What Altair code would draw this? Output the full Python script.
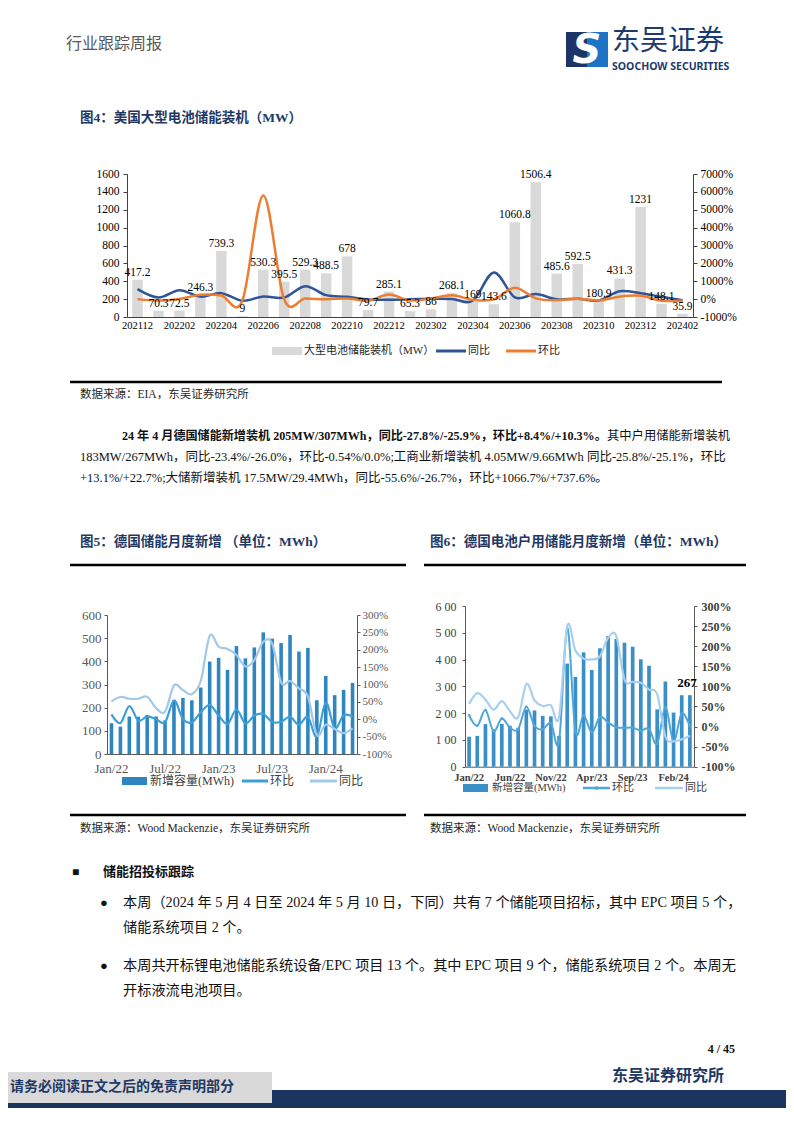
import altair as alt
import pandas as pd

W, H = 778, 1100
SERIF = "Liberation Serif, Noto Sans CJK SC, serif"
CJK = "Noto Sans CJK SC"

# ---------------- Figure 4 data ----------------
c1_months = ["202112", "202201", "202202", "202203", "202204", "202205", "202206",
             "202207", "202208", "202209", "202210", "202211", "202212", "202301",
             "202302", "202303", "202304", "202305", "202306", "202307", "202308",
             "202309", "202310", "202311", "202312", "202401", "202402"]
c1_mw = [417.2, 70.3, 72.5, 246.3, 739.3, 9, 530.3, 395.5, 529.3, 488.5, 678, 79.7,
         285.1, 65.3, 86, 268.1, 169, 143.6, 1060.8, 1506.4, 485.6, 592.5, 180.9,
         431.3, 1231, 148.1, 35.9]
c1_lbl = ["417.2", "70.3", "72.5", "246.3", "739.3", "9", "530.3", "395.5", "529.3",
          "488.5", "678", "79.7", "285.1", "65.3", "86", "268.1", "169", "143.6",
          "1060.8", "1506.4", "485.6", "592.5", "180.9", "431.3", "1231", "148.1", "35.9"]
c1_yoy = [558, 93, 502, 140, 335, -93, 149, 93, 726, 223, 130, -19, -32, -7, 19, 9,
          -77, 1496, 100, 281, -8, 21, -73, 441, 332, 127, -58]
c1_mom = [0, -83, 3, 240, 200, -99, 5792, -25, 34, -8, 39, -88, 258, -77, 32, 212,
          -37, -15, 639, 42, -68, 22, -69, 138, 185, -88, -76]
c1_ticks = c1_months[::2]

# ---------------- Figure 5 / 6 data ----------------
months = ["Jan/22", "Feb/22", "Mar/22", "Apr/22", "May/22", "Jun/22", "Jul/22",
          "Aug/22", "Sep/22", "Oct/22", "Nov/22", "Dec/22", "Jan/23", "Feb/23",
          "Mar/23", "Apr/23", "May/23", "Jun/23", "Jul/23", "Aug/23", "Sep/23",
          "Oct/23", "Nov/23", "Dec/23", "Jan/24", "Feb/24", "Mar/24", "Apr/24"]
c5_mwh = [133, 118, 162, 161, 168, 162, 145, 232, 242, 232, 287, 399, 415, 363,
          466, 413, 460, 525, 498, 479, 514, 442, 458, 232, 337, 254, 277, 307]
c5_mom = [14, -11, 38, -4, 8, 0, -9, 54, 1, -9, 20, 41, 11, -14, 28, -12, 11, 15,
          -8, -7, 7, -16, 7, -50, 48, -26, 11, 8]
c5_yoy = [51, 64, 59, 59, 65, 32, 22, 97, 84, 72, 110, 240, 209, 202, 185, 152, 170,
          223, 218, 106, 110, 89, 65, -45, -16, -28, -40, -26]
c5_ticks = ["Jan/22", "Jul/22", "Jan/23", "Jul/23", "Jan/24"]

c6_mwh = [112, 115, 159, 140, 160, 153, 145, 213, 210, 190, 188, 115, 385, 335,
          427, 361, 442, 488, 477, 463, 448, 401, 377, 214, 318, 202, 267, 267]
c6_mom = [28, 2, 41, -12, 20, -3, -7, 49, 2, -7, 9, -37, 244, -12, 28, -15, 24, 10,
          -2, -3, -3, -10, -6, -43, 48, -37, 33, 0]
c6_yoy = [56, 83, 67, 42, 63, 38, 23, 106, 65, 51, 53, 23, 250, 189, 169, 167, 175,
          221, 225, 117, 111, 109, 92, 80, -25, -37, -32, -23]
c6_ticks = ["Jan/22", "Jun/22", "Nov/22", "Apr/23", "Sep/23", "Feb/24"]
c6_last_label = "267"

df1 = pd.DataFrame({"m": c1_months, "v": c1_mw, "lbl": c1_lbl, "yoy": c1_yoy,
                    "mom": c1_mom, "i": list(range(len(c1_months)))})
df5 = pd.DataFrame({"m": months, "v": c5_mwh, "yoy": c5_yoy, "mom": c5_mom,
                    "i": list(range(len(months)))})
df6 = pd.DataFrame({"m": months, "v": c6_mwh, "yoy": c6_yoy, "mom": c6_mom,
                    "i": list(range(len(months)))})
df6_last = pd.DataFrame({"m": [months[-1]], "v": [c6_mwh[-1]], "lbl": [c6_last_label]})

DUMMY = pd.DataFrame({"k": [0]})


def text(x, y, s, size=12, bold=False, color="#111111", align="left", font=SERIF,
         baseline="middle", **kw):
    return alt.Chart(DUMMY).mark_text(
        text=s, fontSize=size, fontWeight="bold" if bold else "normal", color=color,
        align=align, baseline=baseline, font=font, **kw
    ).encode(x=alt.value(x), y=alt.value(y))


def rect(x, x2, y, y2, color):
    return alt.Chart(DUMMY).mark_rect(color=color).encode(
        x=alt.value(x), x2=alt.value(x2), y=alt.value(y), y2=alt.value(y2))


def hline(x, x2, y, color, width):
    return alt.Chart(DUMMY).mark_rule(color=color, strokeWidth=width).encode(
        x=alt.value(x), x2=alt.value(x2), y=alt.value(y))


def band(dom, r, pi, po):
    return alt.Scale(type="band", domain=dom, range=r, paddingInner=pi, paddingOuter=po)


def point(dom, r):
    return alt.Scale(type="point", domain=dom, range=r, padding=0.5)


def lin(dom, r):
    return alt.Scale(domain=dom, range=r, nice=False, zero=False)


layers = []

# ---------------- header ----------------
layers.append(text(58, 36, "行业跟踪周报", size=16, color="#595959"))
layers.append(rect(558, 600, 24, 59, "#1c3566"))
layers.append(rect(579, 600, 24, 59, "#1d73c4"))
layers.append(text(579, 43, "S", size=40, bold=True, color="#ffffff", align="center",
                   font="DejaVu Sans", fontStyle="italic"))
layers.append(text(604, 34, "东吴证券", size=28, color="#1d3b6f", font=CJK))
layers.append(text(604, 58.5, "SOOCHOW SECURITIES", size=10.5, bold=True,
                   color="#1d3b6f", font="Noto Sans"))

# ---------------- Figure 4 ----------------
layers.append(text(72, 110, "图4：美国大型电池储能装机（MW）", size=13.5, bold=True,
                   color="#1f3864"))

X1 = [119, 685]
Y1 = [309, 166]
base1 = alt.Chart(df1)
layers.append(base1.mark_bar(color="#d9d9d9").encode(
    x=alt.X("m:N", title=None, scale=band(c1_months, X1, 0.5, 0.25),
            axis=alt.Axis(orient="bottom", offset=309 - H, values=c1_ticks, labelAngle=0,
                          labelFont=SERIF, labelFontSize=10.5, labelColor="#000000",
                          domainColor="#404040", ticks=False, labelPadding=3,
                          labelOverlap=False, grid=False)),
    y=alt.Y("v:Q", title=None, scale=lin([0, 1600], Y1),
            axis=alt.Axis(orient="left", offset=-119, values=list(range(0, 1601, 200)),
                          format="d", labelFont=SERIF, labelFontSize=11.5,
                          labelColor="#000000", domainColor="#404040", tickColor="#404040",
                          tickSize=4, labelPadding=4, labelOverlap=False, grid=False)),
))
layers.append(base1.mark_line(color="#2f5597", strokeWidth=2.5, interpolate="cardinal",
                              tension=0).encode(
    x=alt.X("m:N", scale=point(c1_months, X1), axis=None),
    y=alt.Y("yoy:Q", title=None, scale=lin([-1000, 7000], Y1),
            axis=alt.Axis(orient="right", offset=685 - W,
                          values=list(range(-1000, 7001, 1000)),
                          labelExpr="datum.value + '%'", labelFont=SERIF,
                          labelFontSize=11.5, labelColor="#000000", domainColor="#404040",
                          tickColor="#404040", tickSize=4, labelPadding=3,
                          labelOverlap=False, grid=False)),
    order="i:Q",
))
layers.append(base1.mark_line(color="#ed7d31", strokeWidth=2.5, interpolate="cardinal",
                              tension=0).encode(
    x=alt.X("m:N", scale=point(c1_months, X1), axis=None),
    y=alt.Y("mom:Q", scale=lin([-1000, 7000], Y1), axis=None),
    order="i:Q",
))
layers.append(base1.mark_text(font=SERIF, fontSize=11.5, color="#000000",
                              baseline="bottom", dy=-2).encode(
    x=alt.X("m:N", scale=point(c1_months, X1), axis=None),
    y=alt.Y("v:Q", scale=lin([0, 1600], Y1), axis=None),
    text="lbl:N",
))
# legend
layers.append(rect(264, 294, 339, 347, "#d9d9d9"))
layers.append(text(296, 343, "大型电池储能装机（MW）", size=11, color="#262626"))
layers.append(hline(428, 458, 343, "#2f5597", 3))
layers.append(text(460, 343, "同比", size=11, color="#262626"))
layers.append(hline(498, 528, 343, "#ed7d31", 3))
layers.append(text(530, 343, "环比", size=11, color="#262626"))
layers.append(hline(62, 714, 374, "#000000", 2.5))
layers.append(text(72, 387, "数据来源：EIA，东吴证券研究所", size=11.5, color="#262626"))

# ---------------- paragraph ----------------
layers.append(text(114, 428, "24 年 4 月德国储能新增装机 205MW/307MWh，同比-27.8%/-25.9%，环比+8.4%/+10.3%。",
                   size=12.1, bold=True, color="#111111"))
layers.append(text(722, 428, "其中户用储能新增装机", size=12.3, align="right"))
layers.append(text(72, 449, "183MW/267MWh，同比-23.4%/-26.0%，环比-0.54%/0.0%;工商业新增装机 4.05MW/9.66MWh 同比-25.8%/-25.1%，环比",
                   size=12.5))
layers.append(text(72, 470, "+13.1%/+22.7%;大储新增装机 17.5MW/29.4MWh，同比-55.6%/-26.7%，环比+1066.7%/+737.6%。",
                   size=12.5))

# ---------------- Figure 5 ----------------
layers.append(text(72, 534, "图5：德国储能月度新增  （单位：MWh）", size=13.5, bold=True,
                   color="#1f3864"))
layers.append(hline(62, 398, 557, "#000000", 2.5))
X5 = [99, 349]
Y5 = [746, 607]
base5 = alt.Chart(df5)
lab5 = dict(labelFont=SERIF, labelColor="#595959", domainColor="#595959",
            tickColor="#595959", labelOverlap=False, grid=False)
layers.append(base5.mark_bar(color="#2e86c1").encode(
    x=alt.X("m:N", title=None, scale=band(months, X5, 0.6, 0.3),
            axis=alt.Axis(orient="bottom", offset=746 - H, values=c5_ticks, labelAngle=0,
                          labelFontSize=13, ticks=False, labelPadding=8, **lab5)),
    y=alt.Y("v:Q", title=None, scale=lin([0, 600], Y5),
            axis=alt.Axis(orient="left", offset=-99, values=list(range(0, 601, 100)),
                          format="d", labelFontSize=13, tickSize=3, labelPadding=3, **lab5)),
))
layers.append(base5.mark_line(color="#3d9fd8", strokeWidth=2.2, interpolate="cardinal",
                              tension=0).encode(
    x=alt.X("m:N", scale=point(months, X5), axis=None),
    y=alt.Y("mom:Q", title=None, scale=lin([-100, 300], Y5),
            axis=alt.Axis(orient="right", offset=349 - W, values=list(range(-100, 301, 50)),
                          labelExpr="datum.value + '%'", labelFontSize=11, tickSize=3,
                          labelPadding=2, **lab5)),
    order="i:Q",
))
layers.append(base5.mark_line(color="#a3c9e8", strokeWidth=2.2, interpolate="cardinal",
                              tension=0).encode(
    x=alt.X("m:N", scale=point(months, X5), axis=None),
    y=alt.Y("yoy:Q", scale=lin([-100, 300], Y5), axis=None),
    order="i:Q",
))
layers.append(rect(114, 139, 769, 777, "#2e86c1"))
layers.append(text(142, 773, "新增容量(MWh)", size=12, color="#404040"))
layers.append(hline(234, 260, 773, "#3d9fd8", 3))
layers.append(text(262, 773, "环比", size=12, color="#404040"))
layers.append(hline(302, 329, 773, "#a3c9e8", 3))
layers.append(text(331, 773, "同比", size=12, color="#404040"))
layers.append(hline(62, 398, 807, "#000000", 2.5))
layers.append(text(72, 821, "数据来源：Wood Mackenzie，东吴证券研究所", size=11.5,
                   color="#262626"))

# ---------------- Figure 6 ----------------
layers.append(text(422, 534, "图6：德国电池户用储能月度新增（单位：MWh）", size=13.5, bold=True,
                   color="#1f3864"))
layers.append(hline(416, 738, 557, "#000000", 2.5))
X6 = [457, 686]
Y6 = [758.7, 598]
base6 = alt.Chart(df6)
lab6 = dict(labelFont=SERIF, labelColor="#404040", domainColor="#595959",
            tickColor="#595959", labelOverlap=False, grid=False)
layers.append(base6.mark_bar(color="#3a8fc6").encode(
    x=alt.X("m:N", title=None, scale=band(months, X6, 0.55, 0.275),
            axis=alt.Axis(orient="bottom", offset=758.7 - H, values=c6_ticks, labelAngle=0,
                          labelFontSize=10.5, labelFontWeight="bold", ticks=False,
                          labelPadding=6, **lab6)),
    y=alt.Y("v:Q", title=None, scale=lin([0, 600], Y6),
            axis=alt.Axis(orient="left", offset=-457, values=list(range(0, 601, 100)),
                          format="d",
                          labelExpr="datum.value >= 100 ? slice(datum.label, 0, 1) + ' ' + slice(datum.label, 1) : datum.label",
                          labelFontSize=12, tickSize=3, labelPadding=6, **lab6)),
))
layers.append(base6.mark_line(color="#4ea6da", strokeWidth=2, interpolate="cardinal",
                              tension=0,
                              point=alt.OverlayMarkDef(size=6, filled=True,
                                                       color="#4ea6da")).encode(
    x=alt.X("m:N", scale=point(months, X6), axis=None),
    y=alt.Y("mom:Q", title=None, scale=lin([-100, 300], Y6),
            axis=alt.Axis(orient="right", offset=686 - W, values=list(range(-100, 301, 50)),
                          labelExpr="datum.value + '%'", labelFontSize=12,
                          labelFontWeight="bold", tickSize=3, labelPadding=4, **lab6)),
    order="i:Q",
))
layers.append(base6.mark_line(color="#a9cfee", strokeWidth=2.2, interpolate="cardinal",
                              tension=0).encode(
    x=alt.X("m:N", scale=point(months, X6), axis=None),
    y=alt.Y("yoy:Q", scale=lin([-100, 300], Y6), axis=None),
    order="i:Q",
))
layers.append(alt.Chart(df6_last).mark_text(font=SERIF, fontSize=13, fontWeight="bold",
                                            color="#000000", baseline="bottom", dy=-5,
                                            dx=-3).encode(
    x=alt.X("m:N", scale=point(months, X6), axis=None),
    y=alt.Y("v:Q", scale=lin([0, 600], Y6), axis=None),
    text="lbl:N",
))
layers.append(rect(455, 480, 776, 784, "#3a8fc6"))
layers.append(text(484, 780, "新增容量(MWh)", size=10.5, color="#404040"))
layers.append(hline(575, 602, 780, "#4ea6da", 2.5))
layers.append(alt.Chart(DUMMY).mark_point(filled=True, size=14, color="#4ea6da",
                                          opacity=1).encode(
    x=alt.value(588.5), y=alt.value(780)))
layers.append(text(604, 780, "环比", size=11, color="#404040"))
layers.append(hline(647, 675, 780, "#a9cfee", 2.5))
layers.append(text(677, 780, "同比", size=11, color="#404040"))
layers.append(hline(416, 738, 807, "#000000", 2.5))
layers.append(text(422, 821, "数据来源：Wood Mackenzie，东吴证券研究所", size=11.5,
                   color="#262626"))

# ---------------- bullets ----------------
layers.append(text(64, 864, "■", size=12, color="#111111"))
layers.append(text(95, 864, "储能招投标跟踪", size=13, bold=True, color="#111111"))
layers.append(text(92, 895, "●", size=13, color="#111111"))
layers.append(text(115, 895, "本周（2024 年 5 月 4 日至 2024 年 5 月 10 日，下同）共有 7 个储能项目招标，其中 EPC 项目 5 个，",
                   size=14.2))
layers.append(text(115, 920, "储能系统项目 2 个。", size=14.2))
layers.append(text(92, 958, "●", size=13, color="#111111"))
layers.append(text(115, 958, "本周共开标锂电池储能系统设备/EPC 项目 13 个。其中 EPC 项目 9 个，储能系统项目 2 个。本周无",
                   size=14.2))
layers.append(text(115, 983, "开标液流电池项目。", size=14.2))

# ---------------- footer ----------------
layers.append(text(727, 1041, "4 / 45", size=12, bold=True, color="#111111", align="right"))
layers.append(text(604, 1068, "东吴证券研究所", size=16, bold=True, color="#1f3864"))
layers.append(rect(0, W, 1082, H, "#1a3560"))
layers.append(rect(0, 264, 1064, 1095, "#d9d9d9"))
layers.append(text(2, 1079, "请务必阅读正文之后的免责声明部分", size=14, bold=True,
                   color="#1f3864"))

chart = alt.layer(*layers).resolve_scale(
    x="independent", y="independent"
).resolve_axis(
    x="independent", y="independent"
).properties(
    width=W, height=H, padding=0, autosize="none"
).configure_view(stroke=None).configure_axis(grid=False)

chart.save("out.html", embed_options={"renderer": "svg", "actions": False})
